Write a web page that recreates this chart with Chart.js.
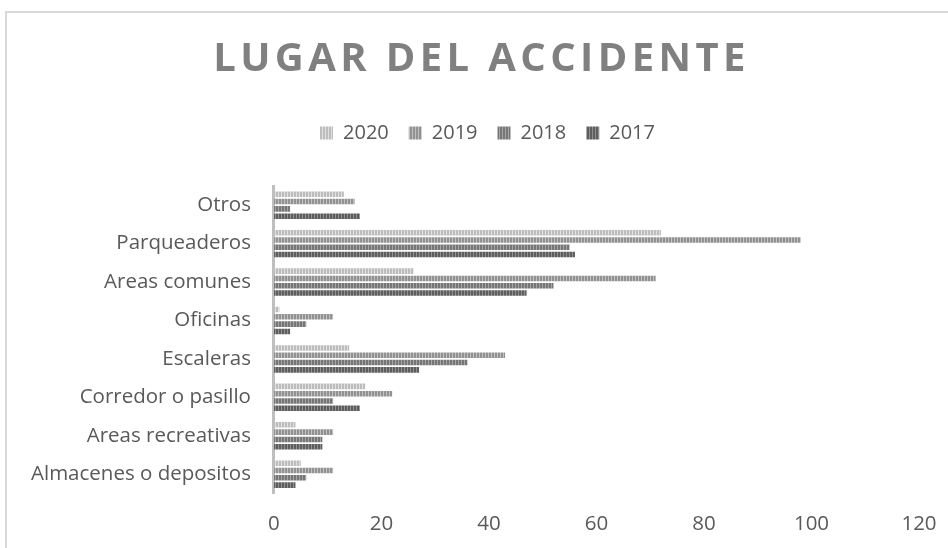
<!DOCTYPE html>
<html>
<head>
<meta charset="utf-8">
<script src="https://cdn.jsdelivr.net/npm/chart.js@4.4.1/dist/chart.umd.min.js"></script>
<style>
  body { margin: 0; background: #fff; }
  #wrap { position: relative; width: 948px; height: 548px; overflow: hidden; }
  #frame { position: absolute; left: 5px; top: 11px; width: 960px; height: 560px; border: 2px solid #d9d9d9; box-sizing: border-box; }
  #chart { position: absolute; left: 0; top: 0; }
</style>
</head>
<body>
<div id="wrap">
  <div id="frame"></div>
  <canvas id="chart" width="948" height="548"></canvas>
</div>
<script>
// Datos del grafico
const categorias = [
  "Otros",
  "Parqueaderos",
  "Areas comunes",
  "Oficinas",
  "Escaleras",
  "Corredor o pasillo",
  "Areas recreativas",
  "Almacenes o depositos",
];
const anios = ["2020", "2019", "2018", "2017"];
const valores2020 = [13, 72, 26, 1, 14, 17, 4, 5];
const valores2019 = [15, 98, 71, 11, 43, 22, 11, 11];
const valores2018 = [3, 55, 52, 6, 36, 11, 9, 6];
const valores2017 = [16, 56, 47, 3, 27, 16, 9, 4];
const ticksX = [0, 20, 40, 60, 80, 100, 120];

// rayas verticales como en Excel
function rayas(fg, bg) {
  const c = document.createElement("canvas");
  c.width = 3;
  c.height = 3;
  const g = c.getContext("2d");
  g.fillStyle = bg;
  g.fillRect(0, 0, 3, 3);
  g.fillStyle = fg;
  g.fillRect(0, 0, 2, 3);
  return g.createPattern(c, "repeat");
}
const patrones = [
  rayas("#bdbdbd", "#e0e0e0"),
  rayas("#929292", "#c0c0c0"),
  rayas("#767676", "#a6a6a6"),
  rayas("#5e5e5e", "#909090"),
];
const series = [valores2020, valores2019, valores2018, valores2017];

const gris = "#595959";

// el titulo y la leyenda van centrados sobre el marco, no sobre el area
function desplazar(chart, box, dx, espaciado) {
  const orig = box.draw.bind(box);
  box.draw = function (area) {
    chart.ctx.save();
    chart.ctx.translate(dx, 0);
    if (espaciado) chart.ctx.letterSpacing = espaciado;
    orig(area);
    chart.ctx.restore();
  };
}
const ajustes = {
  id: "ajustes",
  afterInit(chart) {
    if (chart.titleBlock) desplazar(chart, chart.titleBlock, 14, "4.4px");
    const lg = chart.legend;
    if (lg) {
      desplazar(chart, lg, 20, null);
      const fit = lg.fit.bind(lg);
      lg.fit = function () {
        fit();
        this.height += 33;
      };
    }
  },
};

const ctx = document.getElementById("chart").getContext("2d");
const myChart = new Chart(ctx, {
  type: "bar",
  data: {
    labels: categorias,
    datasets: anios.map((a, i) => ({
      label: a,
      data: series[i],
      backgroundColor: patrones[i],
      borderWidth: 0,
      categoryPercentage: 0.76,
      barPercentage: 0.76,
    })),
  },
  options: {
    indexAxis: "y",
    responsive: false,
    animation: false,
    layout: { padding: { top: 36, left: 16, right: 29, bottom: 2 } },
    plugins: {
      title: {
        display: true,
        text: "LUGAR DEL ACCIDENTE",
        color: "#808080",
        font: { family: "Open Sans", size: 40, weight: "bold", lineHeight: 1.2 },
        padding: { top: 0, bottom: 19 },
      },
      legend: {
        display: true,
        position: "top",
        labels: {
          color: gris,
          font: { family: "Open Sans", size: 20 },
          boxWidth: 13,
          boxHeight: 13,
          padding: 20,
        },
      },
      tooltip: { enabled: false },
    },
    scales: {
      x: {
        min: 0,
        max: 120,
        afterBuildTicks: (s) => { s.ticks = ticksX.map((v) => ({ value: v })); },
        grid: { display: false },
        border: { display: false },
        ticks: { color: gris, font: { family: "Open Sans", size: 20.5 }, padding: 10 },
      },
      y: {
        grid: { display: false },
        border: { display: true, color: "#bfbfbf", width: 3 },
        ticks: { color: gris, font: { family: "Open Sans", size: 20.5 }, padding: 15 },
      },
    },
  },
  plugins: [ajustes],
});
myChart.draw();
</script>
</body>
</html>
